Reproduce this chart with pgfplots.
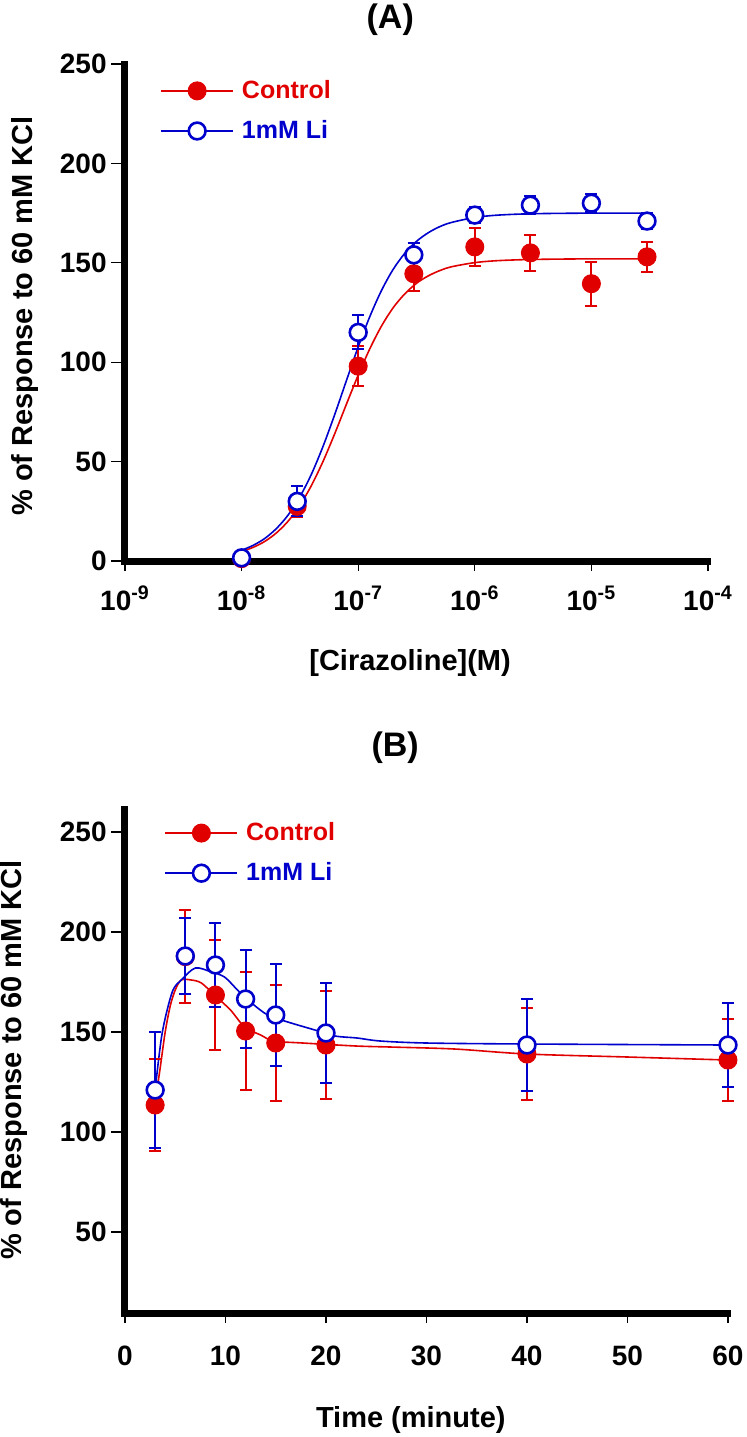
\documentclass[border=0pt]{standalone}
\usepackage{fontspec}
\setmainfont{Liberation Sans}
\usepackage{pgfplots}
\pgfplotsset{compat=1.18}
\definecolor{cred}{RGB}{225,0,0}
\definecolor{cblue}{RGB}{0,0,205}

\pgfplotsset{
  panel/.style={
    scale only axis, clip=false,
    axis x line*=bottom, axis y line*=left,
    axis line style={line width=3.5pt, line cap=rect, -},
    x axis line style={-}, y axis line style={-},
    tick align=outside,
    major tick length=7pt,
    tick style={black, line width=0.6pt},
    /pgf/number format/assume math mode=true,
    tick label style={font=\fontsize{14}{14}\selectfont\bfseries},
    yticklabel style={anchor=east, inner sep=0pt, xshift=-2pt},
    label style={font=\fontsize{14.5}{14.5}\selectfont\bfseries},
    ylabel style={anchor=center, rotate=0},
    title style={anchor=center, font=\fontsize{17}{17}\selectfont\bfseries},
    legend cell align=left,
    legend image code/.code={
      \draw[mark repeat=2, mark phase=2, #1] plot coordinates {(0pt,0pt) (18pt,0pt) (36pt,0pt)};},
    legend style={draw=none, fill=none, inner sep=0pt, anchor=north west,
      font=\fontsize{12.5}{12.5}\selectfont\bfseries,
      nodes={inner sep=0pt}, column sep=4pt, row sep=9.5pt},
  },
  ctrl/.style={cred, line width=0.8pt, mark=*, mark size=4.5pt, mark options={fill=cred, draw=cred, line width=0.5pt}},
  li/.style={cblue, line width=0.8pt, mark=*, mark size=4.2pt, mark options={fill=white, draw=cblue, line width=1.3pt}},
  ctrlerr/.style={only marks, ctrl, forget plot,
    error bars/.cd, y dir=both, y explicit,
    error bar style={line width=1pt, cred},
    error mark options={cred, line width=1pt, mark size=3pt, rotate=90}},
  lierr/.style={only marks, li, forget plot,
    error bars/.cd, y dir=both, y explicit,
    error bar style={line width=1pt, cblue},
    error mark options={cblue, line width=1pt, mark size=3pt, rotate=90}},
}

\begin{document}
\begin{tikzpicture}[x=1pt, y=1pt]
\path[use as bounding box] (0,0) rectangle (373,-718.5);

% (A) concentration-response
\begin{axis}[panel,
  at={(62.5pt,-280.5pt)}, anchor=south west,
  width=291.5pt, height=248.5pt,
  xmode=log, xmin=1e-9, xmax=1e-4, xminorticks=false,
  ymin=0, ymax=250,
  xtick={1e-9,1e-8,1e-7,1e-6,1e-5,1e-4},
  xticklabels={10\textsuperscript{-9},10\textsuperscript{-8},10\textsuperscript{-7},10\textsuperscript{-6},10\textsuperscript{-5},10\textsuperscript{-4}},
  xticklabel style={anchor=base, inner sep=0pt, yshift=-17.5pt, font=\fontsize{14}{14}\selectfont\bfseries},
  xtick style={/pgfplots/major tick length=5pt},
  ytick={0,50,100,150,200,250},
  title={(A)}, title style={at={(axis description cs:0.455,1)}, yshift=16pt},
  xlabel={[Cirazoline](M)}, xlabel style={at={(axis description cs:0.489,-0.205)}, anchor=center},
  ylabel={\% of Response to 60 mM KCl}, ylabel style={at={(axis description cs:-0.172,0.493)}, rotate=0},
  legend style={at={(axis description cs:0.060,0.968)}},
]
\addlegendimage{ctrl}
\addlegendentry{\textcolor{cred}{Control}}
\addlegendimage{li}
\addlegendentry{\textcolor{cblue}{1mM Li}}

\addplot[cred, line width=0.8pt, smooth, forget plot] coordinates {
  (1e-8,4.7) (1.259e-8,6.9) (1.585e-8,9.9) (1.995e-8,14.2) (2.512e-8,20.1)
  (3.162e-8,28.0) (3.981e-8,38.1) (5.012e-8,50.3) (6.310e-8,64.2) (7.943e-8,79.0)
  (1e-7,93.5) (1.259e-7,106.8) (1.585e-7,118.2) (1.995e-7,127.4) (2.512e-7,134.4)
  (3.162e-7,139.7) (3.981e-7,143.4) (5.012e-7,146.1) (6.310e-7,148.0) (1e-6,150.1)
  (1.585e-6,151.1) (3.162e-6,151.7) (1e-5,152) (3e-5,152)};
\addplot[cblue, line width=0.8pt, smooth, forget plot] coordinates {
  (1e-8,5.4) (1.259e-8,7.9) (1.585e-8,11.4) (1.995e-8,16.4) (2.512e-8,23.2)
  (3.162e-8,32.3) (3.981e-8,43.8) (5.012e-8,57.9) (6.310e-8,73.9) (7.943e-8,90.9)
  (1e-7,107.7) (1.259e-7,123.0) (1.585e-7,136.1) (1.995e-7,146.7) (2.512e-7,154.8)
  (3.162e-7,160.8) (3.981e-7,165.1) (5.012e-7,168.2) (6.310e-7,170.3) (1e-6,172.8)
  (1.585e-6,174.0) (3.162e-6,174.7) (1e-5,175) (3e-5,175)};

\addplot[ctrlerr] coordinates {
  (1e-8,1.2) +- (0,1)
  (3e-8,27.5) +- (0,5.5)
  (1e-7,98) +- (0,10)
  (3e-7,144.5) +- (0,8.5)
  (1e-6,158) +- (0,9.5)
  (3e-6,155) +- (0,9)
  (1e-5,139.5) +- (0,11)
  (3e-5,153) +- (0,7.5)};
\addplot[lierr] coordinates {
  (1e-8,1.6) +- (0,1)
  (3e-8,30) +- (0,7.5)
  (1e-7,115) +- (0,8.5)
  (3e-7,154) +- (0,6)
  (1e-6,174) +- (0,4)
  (3e-6,179) +- (0,4.5)
  (1e-5,180) +- (0,4.5)
  (3e-5,171) +- (0,4)};
\end{axis}

% (B) time course
\begin{axis}[panel,
  at={(62.5pt,-656.5pt)}, anchor=south west,
  width=301.5pt, height=252pt,
  xmin=0, xmax=60, ymin=9.5, ymax=261.5,
  xtick={0,10,20,30,40,50,60},
  xticklabel style={anchor=base, inner sep=0pt, yshift=-19pt},
  xtick style={/pgfplots/major tick length=5pt},
  ytick={50,100,150,200,250},
  title={(B)}, title style={at={(axis description cs:0.448,1)}, yshift=24.5pt},
  xlabel={Time (minute)}, xlabel style={at={(axis description cs:0.474,-0.212)}, anchor=center},
  ylabel={\% of Response to 60 mM KCl}, ylabel style={at={(axis description cs:-0.184,0.502)}, rotate=0},
  legend style={at={(axis description cs:0.065,0.974)}},
]
\addlegendimage{ctrl}
\addlegendentry{\textcolor{cred}{Control}}
\addlegendimage{li}
\addlegendentry{\textcolor{cblue}{1mM Li}}

\addplot[cred, line width=0.8pt, smooth, forget plot] coordinates {
  (3,115) (3.5,132) (4,150) (4.5,163) (5,171) (5.6,176) (6.6,176) (7.6,174.5)
  (9,168) (10.5,161) (11.9,152.5) (13.5,148.5) (14.8,145.5) (17.7,144.5)
  (23,143) (26.4,142.5) (32.8,141.5) (40,139) (50,137.5) (60,136)};
\addplot[cblue, line width=0.8pt, smooth, forget plot] coordinates {
  (3,121) (3.7,149.5) (4.7,170) (5.6,176) (7,182) (8.6,180) (9.9,177.5)
  (11.2,171) (12.6,164.5) (14.2,158.5) (16.2,155) (18.9,151) (20.9,148)
  (23.1,147) (25.4,145.5) (30,144.5) (40,144) (60,143.5)};

\addplot[ctrlerr] coordinates {
  (3,113.5) +- (0,23)
  (6,187.7) +- (0,23.2)
  (9,168.5) +- (0,27.3)
  (12,150.5) +- (0,29.3)
  (15,144.5) +- (0,29)
  (20,143.5) +- (0,26.8)
  (40,139) +- (0,23)
  (60,136) +- (0,20.5)};
\addplot[lierr] coordinates {
  (3,121) +- (0,29)
  (6,188) +- (0,18.8)
  (9,183.5) +- (0,21)
  (12,166.5) +- (0,24.5)
  (15,158.5) +- (0,25.7)
  (20,149.5) +- (0,24.8)
  (40,143.5) +- (0,23)
  (60,143.5) +- (0,21)};
\end{axis}
\end{tikzpicture}
\end{document}
